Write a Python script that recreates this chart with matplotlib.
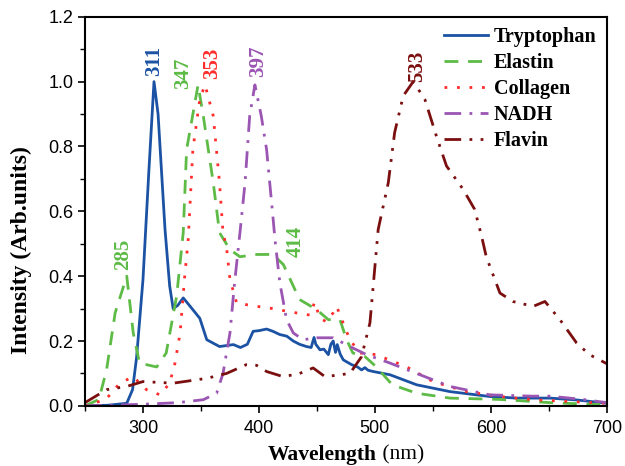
import matplotlib
matplotlib.use("Agg")
import matplotlib.pyplot as plt
from matplotlib.ticker import MultipleLocator

# Emission spectra (wavelength nm, normalised intensity)
trp_x = [250, 270, 286, 291, 294.5, 300, 305, 309.5, 313, 319, 323, 326, 330, 334.7, 340,
         349, 355, 366, 378, 384, 390, 395, 400, 406.6, 412, 418, 424, 429.6, 435, 441,
         445, 447.5, 449, 452.6, 456, 459.8, 462, 464, 466, 467.5, 470, 472.7, 476, 480,
         485, 488.5, 491.4, 494, 498.5, 513, 536, 564.7, 599, 622, 651, 675, 700]
trp_y = [0.0, 0.002, 0.008, 0.05, 0.15, 0.39, 0.72, 1.0, 0.9, 0.544, 0.37, 0.30, 0.31,
         0.333, 0.31, 0.27, 0.204, 0.183, 0.189, 0.18, 0.19, 0.23, 0.232, 0.237, 0.23,
         0.22, 0.215, 0.2, 0.19, 0.183, 0.18, 0.211, 0.19, 0.173, 0.175, 0.158, 0.19,
         0.2, 0.165, 0.189, 0.16, 0.142, 0.135, 0.127, 0.12, 0.111, 0.118, 0.11, 0.106,
         0.096, 0.065, 0.044, 0.029, 0.024, 0.024, 0.018, 0.008]

ela_x = [250, 262, 268.6, 276, 286, 291.6, 297, 311.8, 320, 329, 334.7, 337.6, 347.5, 352,
         360.6, 366, 375, 383.6, 398, 412, 421, 435, 449.7, 459.8, 469.8, 475.6, 481,
         491.4, 501, 515, 536, 564.7, 607, 651, 700]
ela_y = [0.0, 0.02, 0.111, 0.287, 0.40, 0.225, 0.132, 0.12, 0.163, 0.338, 0.534, 0.79,
         0.99, 0.894, 0.688, 0.534, 0.482, 0.46, 0.467, 0.467, 0.436, 0.328, 0.297,
         0.266, 0.266, 0.204, 0.163, 0.152, 0.121, 0.065, 0.039, 0.024, 0.02, 0.01, 0.003]

col_x = [250, 268, 280, 291.6, 303, 314.7, 323, 327.6, 332, 336, 339, 343, 349, 353.5,
         360.6, 366, 369, 372, 375, 380.8, 398, 412, 426.7, 444, 448, 452.6, 458, 464,
         467, 471, 478.4, 487, 501, 527, 550, 578.8, 607.8, 636, 665, 700]
col_y = [0.0, 0.02, 0.07, 0.09, 0.05, 0.034, 0.07, 0.132, 0.225, 0.40, 0.513, 0.79,
         0.946, 0.99, 0.894, 0.688, 0.534, 0.49, 0.39, 0.317, 0.307, 0.30, 0.29, 0.28,
         0.32, 0.27, 0.26, 0.287, 0.307, 0.27, 0.204, 0.163, 0.158, 0.121, 0.075, 0.044,
         0.029, 0.019, 0.014, 0.008]

nadh_x = [250, 300, 330, 352, 363.5, 369, 375, 379, 383.6, 388, 392, 396.5, 402, 406.6,
          412, 413.8, 418, 423.8, 429.6, 438, 449.7, 464, 478.4, 492.8, 513, 536, 564.7,
          599, 636, 651, 679, 700]
nadh_y = [0.0, 0.005, 0.01, 0.019, 0.039, 0.10, 0.225, 0.38, 0.534, 0.688, 0.894, 0.99,
          0.894, 0.79, 0.585, 0.513, 0.38, 0.266, 0.225, 0.204, 0.21, 0.21, 0.183, 0.158,
          0.132, 0.10, 0.06, 0.034, 0.03, 0.03, 0.02, 0.01]

fla_x = [250, 268.6, 286, 300, 326, 355, 372, 389, 398, 406.6, 421, 435, 446.7, 457,
         478.4, 488.5, 495.7, 502.8, 511.5, 517, 524.4, 533, 543, 553, 561.7, 576, 586,
         592, 596, 607.8, 619, 636.5, 646.6, 659.5, 673.9, 685, 700]
fla_y = [0.01, 0.05, 0.06, 0.075, 0.07, 0.085, 0.10, 0.127, 0.125, 0.106, 0.09, 0.10,
         0.117, 0.09, 0.10, 0.152, 0.256, 0.544, 0.688, 0.843, 0.956, 1.0, 0.946, 0.832,
         0.74, 0.668, 0.606, 0.523, 0.46, 0.348, 0.322, 0.307, 0.322, 0.266, 0.194,
         0.158, 0.13]

# peak annotations: text, x, y (bottom of the rotated label)
peak_text = ["311", "347", "353", "397", "533", "285", "414"]
peak_x = [309.5, 334.5, 360, 399, 536.5, 283, 432]
peak_y = [1.017, 0.977, 1.008, 1.014, 1.0, 0.42, 0.46]

serif = "Liberation Serif"
plt.rcParams["font.family"] = "Liberation Sans"

fig = plt.figure(figsize=(6.25, 4.66), dpi=100)
ax = fig.add_axes([0.136, 0.129, 0.835, 0.835])

c_trp = "#1c52a3"
c_ela = "#5dbb46"
c_col = "#ff2d2d"
c_nadh = "#9b55b3"
c_fla = "#7b0f0f"

ax.plot(trp_x, trp_y, color=c_trp, lw=2.0, label="Tryptophan")
ax.plot(ela_x, ela_y, color=c_ela, lw=2.0, ls=(0, (5, 3.5)), label="Elastin")
ax.plot(col_x, col_y, color=c_col, lw=2.0, ls=(0, (1, 3.5)), label="Collagen")
ax.plot(nadh_x, nadh_y, color=c_nadh, lw=2.0, ls=(0, (6, 3, 1, 3)), label="NADH")
ax.plot(fla_x, fla_y, color=c_fla, lw=2.0, ls=(0, (6, 3, 1, 3, 1, 3)), label="Flavin")

peak_col = [c_trp, c_ela, c_col, c_nadh, c_fla, c_ela, c_ela]
for t, x, y, c in zip(peak_text, peak_x, peak_y, peak_col):
    ax.text(x, y, t, rotation=90, color=c, ha="center", va="bottom",
            fontsize=15, fontweight="bold", family=serif)

ax.set_xlim(250, 700)
ax.set_ylim(0, 1.2)
ax.xaxis.set_minor_locator(MultipleLocator(50))
ax.yaxis.set_minor_locator(MultipleLocator(0.1))
ax.set_yticks([0, 0.2, 0.4, 0.6, 0.8, 1.0, 1.2])
ax.set_yticklabels(["0.0", "0.2", "0.4", "0.6", "0.8", "1.0", "1.2"])
ax.set_xticks([300, 400, 500, 600, 700])
ax.tick_params(which="major", direction="out", length=5, width=1.2, labelsize=13)
ax.tick_params(axis="x", which="major", pad=5)
ax.tick_params(which="minor", direction="out", length=3.5, width=1.0)
for s in ax.spines.values():
    s.set_linewidth(1.5)

fig.text(0.603, 0.013, "Wavelength", fontsize=15.5, fontweight="bold", family=serif,
         ha="right", va="baseline")
fig.text(0.603, 0.013, " (nm)", fontsize=15.5, family=serif, ha="left", va="baseline")
ax.set_ylabel("Intensity (Arb.units)", fontsize=17, fontweight="bold", family=serif)
ax.yaxis.set_label_coords(-0.102, 0.40)

ax.legend(loc="upper right", frameon=False, handlelength=2.2, handletextpad=0.3,
          prop={"family": serif, "weight": "bold", "size": 14.5},
          borderaxespad=0.3, labelspacing=0.3, borderpad=0.2)

fig.savefig("out.png", dpi=100)
